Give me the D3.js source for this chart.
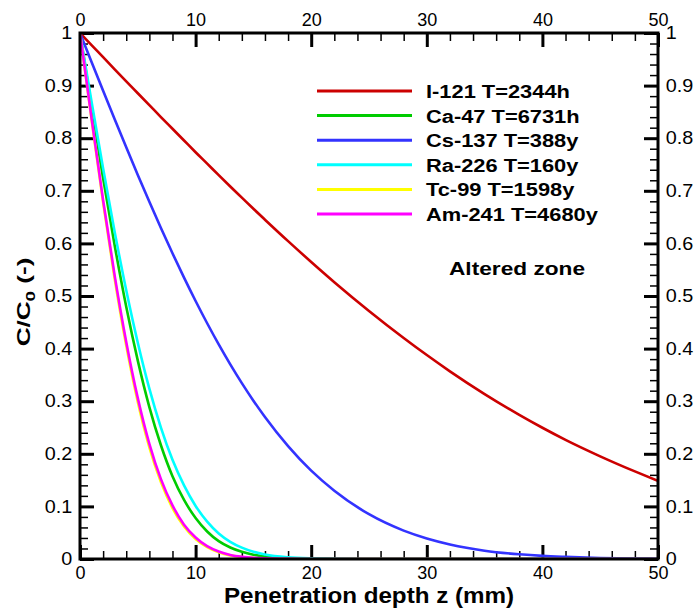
<!DOCTYPE html>
<html>
<head>
<meta charset="utf-8">
<script src="https://cdn.jsdelivr.net/npm/d3@7"></script>
<style>
  body { margin: 0; background: #fff; }
  svg text { font-family: "Liberation Sans", Arial, Helvetica, sans-serif; fill: #000; }
</style>
</head>
<body>
<svg id="chart" width="694" height="612"></svg>
<script>
// Penetration depth z (mm) at which each profile is sampled
const depth = [0, 1, 2, 3, 4, 5, 6, 7, 8, 9, 10, 11, 12, 13, 14, 15, 16, 18, 20, 22, 25, 28, 30, 32, 35, 38, 40, 42, 45, 48, 50];

// Relative concentration C/C0 for each nuclide
const i121  = [1, 0.977, 0.954, 0.931, 0.908, 0.8855, 0.8629, 0.8402, 0.8179, 0.7956, 0.7733, 0.7516, 0.7297, 0.7082, 0.687, 0.6658, 0.6451, 0.6043, 0.5647, 0.5263, 0.4716, 0.4202, 0.3877, 0.3568, 0.3136, 0.274, 0.2495, 0.2265, 0.1952, 0.1665, 0.1485];
const ca47  = [1, 0.8598, 0.7237, 0.5961, 0.4795, 0.3771, 0.2888, 0.2162, 0.1573, 0.1123, 0.0779, 0.0523, 0.0339, 0.0218, 0.0136, 0.0081, 0.0047, 0.0015, 0.0004, 0.0001, 0, 0, 0, 0, 0, 0, 0, 0, 0, 0, 0];
const cs137 = [1, 0.945, 0.8902, 0.8361, 0.7827, 0.7302, 0.679, 0.6292, 0.5812, 0.5349, 0.4905, 0.4482, 0.408, 0.3701, 0.3344, 0.301, 0.27, 0.2146, 0.1679, 0.1298, 0.0851, 0.0539, 0.039, 0.0277, 0.0158, 0.0089, 0.0059, 0.004, 0.0019, 0.0009, 0.0006];
const ra226 = [1, 0.8694, 0.7424, 0.6218, 0.5109, 0.4112, 0.3239, 0.2499, 0.1886, 0.1399, 0.1009, 0.071, 0.0486, 0.0327, 0.0216, 0.0139, 0.0087, 0.0033, 0.0011, 0.0003, 0.0001, 0, 0, 0, 0, 0, 0, 0, 0, 0, 0];
const tc99  = [1, 0.8352, 0.6776, 0.5328, 0.4057, 0.2986, 0.2123, 0.1463, 0.0968, 0.0617, 0.038, 0.0224, 0.0128, 0.0069, 0.0038, 0.0018, 0.0009, 0.0002, 0, 0, 0, 0, 0, 0, 0, 0, 0, 0, 0, 0, 0];
const am241 = [1, 0.8377, 0.682, 0.5388, 0.4126, 0.3058, 0.219, 0.1519, 0.1019, 0.0652, 0.0409, 0.0243, 0.0141, 0.0078, 0.0043, 0.0022, 0.0011, 0.0002, 0, 0, 0, 0, 0, 0, 0, 0, 0, 0, 0, 0, 0];

const seriesLabels = ["I-121 T=2344h", "Ca-47 T=6731h", "Cs-137 T=388y", "Ra-226 T=160y", "Tc-99 T=1598y", "Am-241 T=4680y"];
const seriesValues = [i121, ca47, cs137, ra226, tc99, am241];
const seriesColors = ["#cc0000", "#00cc00", "#3333ff", "#00ffff", "#ffff00", "#ff00ff"];

const xTicks = [0, 10, 20, 30, 40, 50];
const yTicks = [0, 0.1, 0.2, 0.3, 0.4, 0.5, 0.6, 0.7, 0.8, 0.9, 1];

const svg = d3.select("#chart");
const plot = { left: 80, right: 658, top: 33, bottom: 559 };

const x = d3.scaleLinear().domain([0, 50]).range([plot.left, plot.right]);
const y = d3.scaleLinear().domain([0, 1]).range([plot.bottom, plot.top]);

const xMinor = d3.range(0, 50.001, 2);
const yMinor = d3.range(0, 1.0001, 0.02).map(v => +v.toFixed(2));

function yFmt(v) { return v === 0 ? "0" : v === 1 ? "1" : d3.format(".1f")(v); }

function styleAxis(g, major, stretch) {
  g.select(".domain").remove();
  g.selectAll(".tick line").attr("stroke", "#000").attr("stroke-width", major ? 3 : 1.5);
  g.selectAll(".tick text").attr("font-size", 18)
    .attr("transform", stretch ? `scale(${stretch},1)` : null);
}

// minor ticks (inward, no labels)
[[d3.axisBottom(x), `translate(0,${plot.bottom})`, xMinor],
 [d3.axisTop(x), `translate(0,${plot.top})`, xMinor],
 [d3.axisLeft(y), `translate(${plot.left},0)`, yMinor],
 [d3.axisRight(y), `translate(${plot.right},0)`, yMinor]].forEach(([ax, tr, vals]) => {
  svg.append("g").attr("transform", tr)
    .call(ax.tickValues(vals).tickSize(-8).tickFormat(""))
    .call(g => styleAxis(g, false));
});

// major ticks with labels
svg.append("g").attr("transform", `translate(0,${plot.bottom})`)
  .call(d3.axisBottom(x).tickValues(xTicks).tickSize(-14).tickPadding(7).tickFormat(d3.format("d")))
  .call(g => styleAxis(g, true));
svg.append("g").attr("transform", `translate(0,${plot.top})`)
  .call(d3.axisTop(x).tickValues(xTicks).tickSize(-14).tickPadding(7).tickFormat(d3.format("d")))
  .call(g => styleAxis(g, true));
svg.append("g").attr("transform", `translate(${plot.left},0)`)
  .call(d3.axisLeft(y).tickValues(yTicks).tickSize(-14).tickPadding(7).tickFormat(yFmt))
  .call(g => styleAxis(g, true, 1.1));
svg.append("g").attr("transform", `translate(${plot.right},0)`)
  .call(d3.axisRight(y).tickValues(yTicks).tickSize(-14).tickPadding(7).tickFormat(yFmt))
  .call(g => styleAxis(g, true, 1.1));

// concentration profiles
const line = d3.line().x((d, i) => x(depth[i])).y(d => y(d)).curve(d3.curveMonotoneX);
svg.append("clipPath").attr("id", "clip").append("rect")
  .attr("x", plot.left).attr("y", plot.top - 2)
  .attr("width", plot.right - plot.left).attr("height", plot.bottom - plot.top + 2);
const curves = svg.append("g").attr("clip-path", "url(#clip)");
seriesValues.forEach((vals, k) => {
  curves.append("path").datum(vals)
    .attr("d", line)
    .attr("fill", "none")
    .attr("stroke", seriesColors[k])
    .attr("stroke-width", 2.6)
    .attr("stroke-linejoin", "round");
});

// plot frame
svg.append("rect")
  .attr("x", plot.left).attr("y", plot.top)
  .attr("width", plot.right - plot.left).attr("height", plot.bottom - plot.top)
  .attr("fill", "none").attr("stroke", "#000").attr("stroke-width", 3);

// legend
const legend = svg.append("g");
seriesLabels.forEach((lab, k) => {
  const cy = 91 + k * 24.6;
  legend.append("line")
    .attr("x1", 317).attr("x2", 412).attr("y1", cy).attr("y2", cy)
    .attr("stroke", seriesColors[k]).attr("stroke-width", 3);
  legend.append("text")
    .attr("transform", `translate(426,${cy + 7}) scale(1.15,1)`)
    .attr("font-size", 19).attr("font-weight", "bold")
    .text(lab);
});

svg.append("text")
  .attr("transform", "translate(449,275) scale(1.26,1)")
  .attr("font-size", 18).attr("font-weight", "bold")
  .text("Altered zone");

// axis titles
svg.append("text")
  .attr("transform", `translate(${(plot.left + plot.right) / 2},603) scale(1.1,1)`)
  .attr("text-anchor", "middle")
  .attr("font-size", 22).attr("font-weight", "bold")
  .text("Penetration depth z (mm)");

const yTitle = svg.append("text")
  .attr("transform", "translate(30,302) rotate(-90) scale(1.45,1)")
  .attr("text-anchor", "middle")
  .attr("font-size", 18).attr("font-weight", "bold");
yTitle.append("tspan").text("C/C");
yTitle.append("tspan").attr("font-size", 13).attr("dy", 5).text("0");
yTitle.append("tspan").attr("dy", -5).text(" (-)");
</script>
</body>
</html>
